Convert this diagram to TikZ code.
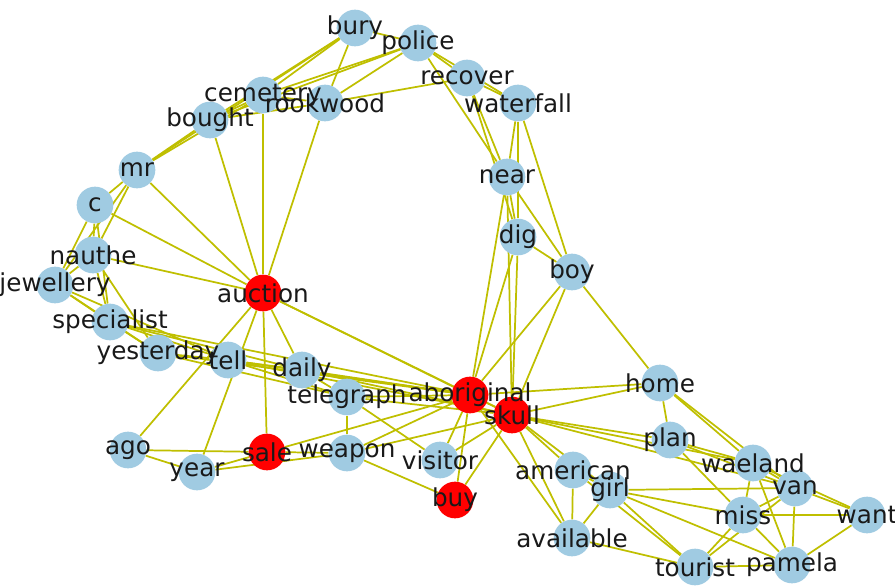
\documentclass[tikz,border=0pt]{standalone}
\usepackage{fontspec}
\setmainfont{DejaVu Sans}
\pgfdeclarelayer{edges}
\pgfsetlayers{edges,main}

\begin{document}
\begin{tikzpicture}[x=0.75pt,y=0.75pt,yscale=-1,xscale=1,
  word/.style={circle,minimum size=27.5pt,inner sep=0pt,fill={rgb, 255:red, 160; green, 203; blue, 226 }},
  keyword/.style={word,fill={rgb, 255:red, 255; green, 0; blue, 0 }},
  link/.style={color={rgb, 255:red, 191; green, 191; blue, 0 },line width=1.3pt},
  tag/.style={inner sep=0pt,text={rgb, 255:red, 25; green, 25; blue, 25 },font=\fontsize{18.5}{21}\selectfont}]
%set diagram left start at 0, and has height of 585
\useasboundingbox (0,0) rectangle (895,585);

%Shape: Circle
\node [word] (bury) at (355,28) {};
\node [word] (police) at (418,43) {};
\node [word] (recover) at (467,78) {};
\node [word] (waterfall) at (518,103) {};
\node [word] (cemetery) at (263,95) {};
\node [word] (rookwood) at (325,103) {};
\node [word] (bought) at (210,120) {};
\node [word] (mr) at (137,170) {};
\node [word] (c) at (95,205) {};
\node [word] (nauthe) at (93,255) {};
\node [word] (jewellery) at (55,285) {};
\node [keyword] (auction) at (263,293) {};
\node [word] (specialist) at (110,322) {};
\node [word] (yesterday) at (158,353) {};
\node [word] (tell) at (228,360) {};
\node [word] (daily) at (302,370) {};
\node [word] (telegraph) at (347,397) {};
\node [word] (near) at (507,177) {};
\node [word] (dig) at (518,237) {};
\node [word] (boy) at (572,272) {};
\node [keyword] (aboriginal) at (470,395) {};
\node [keyword] (skull) at (512,415) {};
\node [word] (ago) at (128,450) {};
\node [word] (year) at (197,472) {};
\node [keyword] (sale) at (267,452) {};
\node [word] (weapon) at (347,453) {};
\node [word] (visitor) at (440,460) {};
\node [keyword] (buy) at (455,500) {};
\node [word] (home) at (660,383) {};
\node [word] (plan) at (670,440) {};
\node [word] (waeland) at (753,463) {};
\node [word] (van) at (795,488) {};
\node [word] (american) at (573,470) {};
\node [word] (girl) at (610,490) {};
\node [word] (miss) at (743,515) {};
\node [word] (want) at (867,515) {};
\node [word] (available) at (572,538) {};
\node [word] (tourist) at (695,567) {};
\node [word] (pamela) at (792,565) {};

\begin{pgfonlayer}{edges}
%Straight Lines: top
\draw [link] (bury) -- (police);
\draw [link] (bury) -- (cemetery);
\draw [link] (bury) -- (bought);
\draw [link] (bury) -- (mr);
\draw [link] (bury) -- (rookwood);
\draw [link] (police) -- (cemetery);
\draw [link] (police) -- (bought);
\draw [link] (police) -- (rookwood);
\draw [link] (police) -- (recover);
\draw [link] (police) -- (waterfall);
\draw [link] (police) -- (near);
\draw [link] (recover) -- (waterfall);
\draw [link] (recover) -- (near);
\draw [link] (recover) -- (dig);
\draw [link] (recover) -- (rookwood);
\draw [link] (waterfall) -- (near);
\draw [link] (waterfall) -- (dig);
\draw [link] (waterfall) -- (boy);
\draw [link] (cemetery) -- (rookwood);
\draw [link] (cemetery) -- (bought);
\draw [link] (cemetery) -- (mr);
\draw [link] (bought) -- (rookwood);
\draw [link] (bought) -- (mr);
%Straight Lines: left
\draw [link] (mr) -- (c);
\draw [link] (mr) -- (nauthe);
\draw [link] (mr) -- (jewellery);
\draw [link] (c) -- (nauthe);
\draw [link] (c) -- (jewellery);
\draw [link] (c) -- (specialist);
\draw [link] (nauthe) -- (jewellery);
\draw [link] (nauthe) -- (specialist);
\draw [link] (nauthe) -- (yesterday);
\draw [link] (jewellery) -- (specialist);
\draw [link] (jewellery) -- (yesterday);
\draw [link] (jewellery) -- (tell);
\draw [link] (specialist) -- (yesterday);
\draw [link] (specialist) -- (tell);
\draw [link] (specialist) -- (daily);
\draw [link] (specialist) -- (aboriginal);
\draw [link] (yesterday) -- (tell);
\draw [link] (yesterday) -- (telegraph);
\draw [link] (yesterday) -- (aboriginal);
\draw [link] (tell) -- (daily);
\draw [link] (tell) -- (telegraph);
\draw [link] (tell) -- (aboriginal);
\draw [link] (tell) -- (skull);
\draw [link] (daily) -- (telegraph);
\draw [link] (daily) -- (aboriginal);
\draw [link] (daily) -- (skull);
\draw [link] (telegraph) -- (aboriginal);
\draw [link] (telegraph) -- (skull);
%Straight Lines: auction
\draw [link] (auction) -- (mr);
\draw [link] (auction) -- (c);
\draw [link] (auction) -- (nauthe);
\draw [link] (auction) -- (bought);
\draw [link] (auction) -- (cemetery);
\draw [link] (auction) -- (rookwood);
\draw [link] (auction) -- (ago);
\draw [link] (auction) -- (year);
\draw [link] (auction) -- (sale);
\draw [link] (auction) -- (daily);
\draw [link] (auction) -- (aboriginal);
\draw [link] (auction) -- (skull);
%Straight Lines: sale
\draw [link] (ago) -- (sale);
\draw [link] (ago) -- (year);
\draw [link] (year) -- (sale);
\draw [link] (year) -- (weapon);
\draw [link] (sale) -- (weapon);
\draw [link] (sale) -- (aboriginal);
\draw [link] (weapon) -- (telegraph);
\draw [link] (weapon) -- (aboriginal);
\draw [link] (weapon) -- (skull);
\draw [link] (weapon) -- (buy);
\draw [link] (telegraph) -- (visitor);
\draw [link] (visitor) -- (aboriginal);
\draw [link] (visitor) -- (skull);
\draw [link] (buy) -- (aboriginal);
\draw [link] (buy) -- (skull);
%Straight Lines: near
\draw [link] (near) -- (dig);
\draw [link] (near) -- (boy);
\draw [link] (near) -- (aboriginal);
\draw [link] (near) -- (skull);
\draw [link] (dig) -- (boy);
\draw [link] (dig) -- (aboriginal);
\draw [link] (dig) -- (skull);
\draw [link] (boy) -- (aboriginal);
\draw [link] (boy) -- (skull);
\draw [link] (boy) -- (home);
\draw [link] (aboriginal) -- (skull);
%Straight Lines: right
\draw [link] (aboriginal) -- (home);
\draw [link] (skull) -- (home);
\draw [link] (skull) -- (plan);
\draw [link] (skull) -- (waeland);
\draw [link] (skull) -- (van);
\draw [link] (skull) -- (american);
\draw [link] (skull) -- (girl);
\draw [link] (skull) -- (available);
\draw [link] (aboriginal) -- (available);
\draw [link] (home) -- (plan);
\draw [link] (home) -- (waeland);
\draw [link] (home) -- (van);
\draw [link] (plan) -- (waeland);
\draw [link] (plan) -- (van);
\draw [link] (plan) -- (miss);
\draw [link] (waeland) -- (van);
\draw [link] (waeland) -- (want);
\draw [link] (waeland) -- (miss);
\draw [link] (waeland) -- (pamela);
\draw [link] (van) -- (want);
\draw [link] (van) -- (miss);
\draw [link] (van) -- (pamela);
\draw [link] (van) -- (tourist);
\draw [link] (miss) -- (want);
\draw [link] (miss) -- (pamela);
\draw [link] (miss) -- (tourist);
\draw [link] (want) -- (pamela);
\draw [link] (tourist) -- (pamela);
\draw [link] (girl) -- (miss);
\draw [link] (girl) -- (van);
\draw [link] (girl) -- (pamela);
\draw [link] (girl) -- (tourist);
\draw [link] (american) -- (tourist);
\draw [link] (american) -- (girl);
\draw [link] (american) -- (available);
\draw [link] (girl) -- (available);
\draw [link] (available) -- (tourist);
\end{pgfonlayer}

% Text Node
\node [tag] at (bury) {bury};
\node [tag] at (police) {police};
\node [tag] at (recover) {recover};
\node [tag] at (waterfall) {waterfall};
\node [tag] at (cemetery) {cemetery};
\node [tag] at (rookwood) {rookwood};
\node [tag] at (bought) {bought};
\node [tag] at (mr) {mr};
\node [tag] at (c) {c};
\node [tag] at (nauthe) {nauthe};
\node [tag] at (jewellery) {jewellery};
\node [tag] at (auction) {auction};
\node [tag] at (specialist) {specialist};
\node [tag] at (yesterday) {yesterday};
\node [tag] at (tell) {tell};
\node [tag] at (daily) {daily};
\node [tag] at (telegraph) {telegraph};
\node [tag] at (near) {near};
\node [tag] at (dig) {dig};
\node [tag] at (boy) {boy};
\node [tag] at (aboriginal) {aboriginal};
\node [tag] at (skull) {skull};
\node [tag] at (ago) {ago};
\node [tag] at (year) {year};
\node [tag] at (sale) {sale};
\node [tag] at (weapon) {weapon};
\node [tag] at (visitor) {visitor};
\node [tag] at (buy) {buy};
\node [tag] at (home) {home};
\node [tag] at (plan) {plan};
\node [tag] at (waeland) {waeland};
\node [tag] at (van) {van};
\node [tag] at (american) {american};
\node [tag] at (girl) {girl};
\node [tag] at (miss) {miss};
\node [tag] at (want) {want};
\node [tag] at (available) {available};
\node [tag] at (tourist) {tourist};
\node [tag] at (pamela) {pamela};

\end{tikzpicture}
\end{document}
